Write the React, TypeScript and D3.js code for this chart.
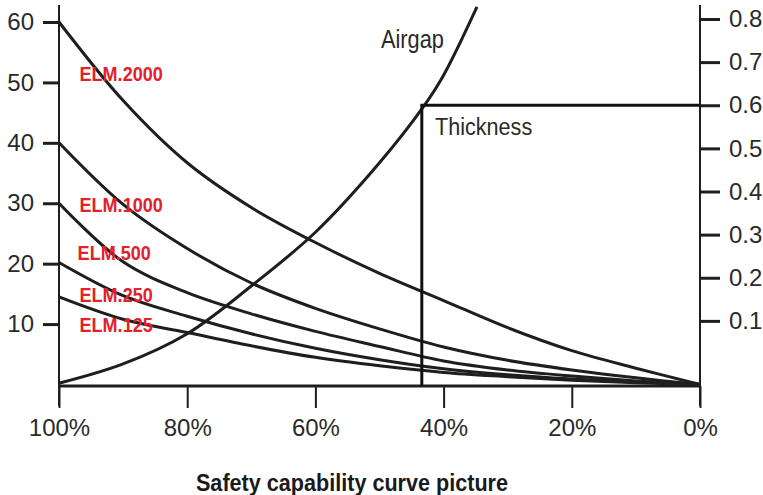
import React, { useRef, useEffect } from 'react';
import * as d3 from 'd3';

// Horizontal position: remaining capability, in percent (100% on the left)
const PCT = [100, 90, 80, 70, 60, 50, 40, 30, 20, 10, 0];

// ELM curves at each PCT step
const ELM_2000 = [60, 47, 36.7, 29.3, 23.5, 18.4, 13.9, 9.4, 5.6, 2.7, 0];
const ELM_1000 = [40, 29.8, 22.5, 16.8, 12.6, 9.2, 6.2, 4.0, 2.4, 1.1, 0];
const ELM_500 = [30, 20.3, 15.2, 11.7, 8.8, 6.3, 3.9, 2.4, 1.4, 0.6, 0];
const ELM_250 = [20.2, 14.7, 11.3, 8.4, 6.0, 4.1, 2.6, 1.6, 0.9, 0.4, 0];
const ELM_125 = [14.5, 10.8, 8.6, 6.4, 4.5, 3.1, 2.0, 1.3, 0.7, 0.3, 0];

const ELM_NAMES = ['ELM.2000', 'ELM.1000', 'ELM.500', 'ELM.250', 'ELM.125'];
const ELM_VALUES = [ELM_2000, ELM_1000, ELM_500, ELM_250, ELM_125];
// label anchors: [pct, left-axis value]
const ELM_LABEL_AT: [number, number][] = [
  [96.8, 51.5],
  [96.8, 29.8],
  [97.1, 21.9],
  [96.8, 14.9],
  [96.8, 9.9],
];

// Airgap rises to the right, cut at the top of the plot
const AIRGAP_PCT = [100, 90, 80, 70, 60, 50, 43.2, 40, 34.8];
const AIRGAP = [0.2, 3.4, 8.4, 16.3, 25.2, 36.7, 45.9, 51.2, 62.5];

// Thickness step (right axis)
const THICKNESS_PCT = 43.4;
const THICKNESS = 0.6;

const X_TICKS = [100, 80, 60, 40, 20, 0];
const LEFT_TICKS = [10, 20, 30, 40, 50, 60];
const RIGHT_TICKS = [0.1, 0.2, 0.3, 0.4, 0.5, 0.6, 0.7, 0.8];

const W = 763;
const H = 495;
const FONT = "'Liberation Sans', Arial, sans-serif";
const INK = '#1e1e1e';
const TEXT = '#2a2a2a';

const App: React.FC = () => {
  const ref = useRef<SVGSVGElement>(null);

  useEffect(() => {
    if (!ref.current) return;
    const svg = d3.select(ref.current);
    svg.selectAll('*').remove();

    const x = d3.scaleLinear().domain([100, 0]).range([59, 700]);
    const yL = d3.scaleLinear().domain([0, 60]).range([384.5, 22]);
    const yR = d3.scaleLinear().domain([0, 0.8]).range([364, 19]);
    const baseY = 386;
    const topY = 5;

    // condensed-looking text: squeeze horizontally around its anchor
    const label = (
      tx: number,
      ty: number,
      str: string,
      size: number,
      sx: number,
      fill: string,
      weight = 'normal',
      anchor = 'start'
    ) => {
      svg.append('g')
        .attr('transform', `translate(${tx},${ty}) scale(${sx},1)`)
        .append('text')
        .attr('dy', '0.36em')
        .attr('text-anchor', anchor)
        .text(str)
        .attr('fill', fill)
        .style('font-family', FONT)
        .style('font-weight', weight)
        .style('font-size', `${size}px`);
    };

    // Axis lines
    svg.append('line')
      .attr('x1', x(100)).attr('x2', x(100)).attr('y1', topY).attr('y2', baseY + 20)
      .attr('stroke', INK).attr('stroke-width', 2);
    svg.append('line')
      .attr('x1', x(0)).attr('x2', x(0)).attr('y1', topY).attr('y2', baseY + 20)
      .attr('stroke', INK).attr('stroke-width', 2);

    const styleAxis = (g: d3.Selection<SVGGElement, unknown, null, undefined>, size: number) => {
      g.select('.domain').remove();
      g.selectAll('.tick line').attr('stroke', INK).attr('stroke-width', 3);
      g.selectAll('.tick text')
        .attr('fill', TEXT)
        .style('font-family', FONT)
        .style('font-size', `${size}px`);
    };

    // Left axis
    const gl = svg.append('g').attr('transform', `translate(${x(100)},0)`)
      .call(d3.axisLeft(yL).tickValues(LEFT_TICKS).tickSize(16).tickPadding(9).tickFormat(d3.format('d')));
    styleAxis(gl, 24);

    // Right axis
    const gr = svg.append('g').attr('transform', `translate(${x(0)},0)`)
      .call(d3.axisRight(yR).tickValues(RIGHT_TICKS).tickSize(20).tickPadding(9).tickFormat(d3.format('.1f')));
    styleAxis(gr, 24);

    // Bottom axis
    const gb = svg.append('g').attr('transform', `translate(0,${baseY})`)
      .call(d3.axisBottom(x).tickValues(X_TICKS).tickSize(22).tickPadding(11).tickFormat((d) => `${d}%`));
    styleAxis(gb, 24);
    gb.selectAll('.tick line').attr('stroke-width', 2);
    svg.append('line')
      .attr('x1', x(100)).attr('x2', x(0)).attr('y1', baseY).attr('y2', baseY)
      .attr('stroke', INK).attr('stroke-width', 3);

    const line = d3.line<[number, number]>()
      .x((d) => x(d[0]))
      .y((d) => yL(d[1]))
      .curve(d3.curveCatmullRom.alpha(0.5));

    // ELM curves
    ELM_VALUES.forEach((vals) => {
      svg.append('path')
        .attr('d', line(PCT.map((p, i) => [p, vals[i]] as [number, number])))
        .attr('fill', 'none')
        .attr('stroke', INK)
        .attr('stroke-width', 3);
    });

    // Airgap
    svg.append('path')
      .attr('d', line(AIRGAP_PCT.map((p, i) => [p, AIRGAP[i]] as [number, number])))
      .attr('fill', 'none')
      .attr('stroke', INK)
      .attr('stroke-width', 3);

    // Thickness step
    svg.append('path')
      .attr('d', `M${x(THICKNESS_PCT)},${baseY}V${yR(THICKNESS)}H${x(0)}`)
      .attr('fill', 'none')
      .attr('stroke', '#111')
      .attr('stroke-width', 3);

    // ELM labels
    ELM_NAMES.forEach((name, i) => {
      const [p, v] = ELM_LABEL_AT[i];
      label(x(p), yL(v), name, 21, 0.86, '#e3202b', 'bold');
    });

    label(381, 39, 'Airgap', 25, 0.87, TEXT);
    label(435, 126, 'Thickness', 24, 0.9, TEXT);
    label(352, 482, 'Safety capability curve picture', 24, 0.9, '#1a1a1a', 'bold', 'middle');
  }, []);

  return (
    <svg
      ref={ref}
      width={W}
      height={H}
      style={{ position: 'absolute', left: 0, top: 0, background: '#fff' }}
    />
  );
};

export default App;
